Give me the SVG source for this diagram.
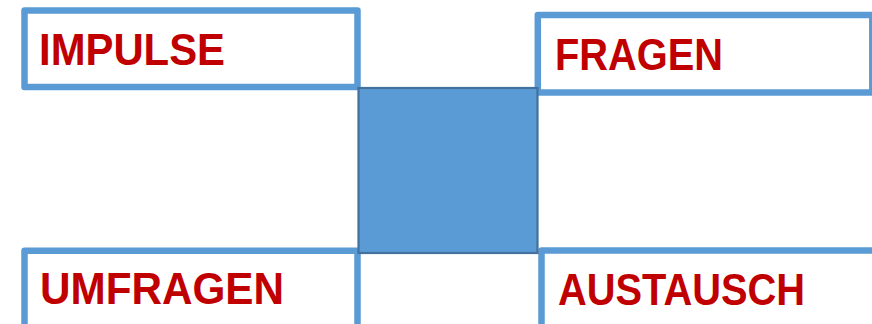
<svg xmlns="http://www.w3.org/2000/svg" width="872" height="324" viewBox="0 0 872 324">
<style>
.box{fill:#FFFFFF;stroke:#5B9BD5;stroke-width:6.5;stroke-linejoin:round}
.lbl{font-family:"Liberation Sans",Arial,sans-serif;font-weight:bold;font-size:44px;fill:#C00000}
.core{fill:#5B9BD5;stroke:#41719C;stroke-width:2.2}
</style>
<rect width="872" height="324" fill="#FFFFFF"/>
<g id="impulse">
<rect class="box" x="24.5" y="10.5" width="333" height="76.5"/>
<text class="lbl" x="39" y="65" textLength="186" lengthAdjust="spacingAndGlyphs">IMPULSE</text>
</g>
<g id="fragen">
<rect class="box" x="537.8" y="15" width="334.5" height="77.5"/>
<text class="lbl" x="555" y="69.5" textLength="168" lengthAdjust="spacingAndGlyphs">FRAGEN</text>
</g>
<g id="umfragen">
<rect class="box" x="24.5" y="250.7" width="333" height="90"/>
<text class="lbl" x="40" y="304" textLength="244" lengthAdjust="spacingAndGlyphs">UMFRAGEN</text>
</g>
<g id="austausch">
<rect class="box" x="541.5" y="250.4" width="340" height="90"/>
<text class="lbl" x="558" y="305" textLength="247" lengthAdjust="spacingAndGlyphs">AUSTAUSCH</text>
</g>
<g id="center">
<rect class="core" x="358.5" y="88" width="179" height="165"/>
</g>
<g id="connectors"></g>
</svg>
